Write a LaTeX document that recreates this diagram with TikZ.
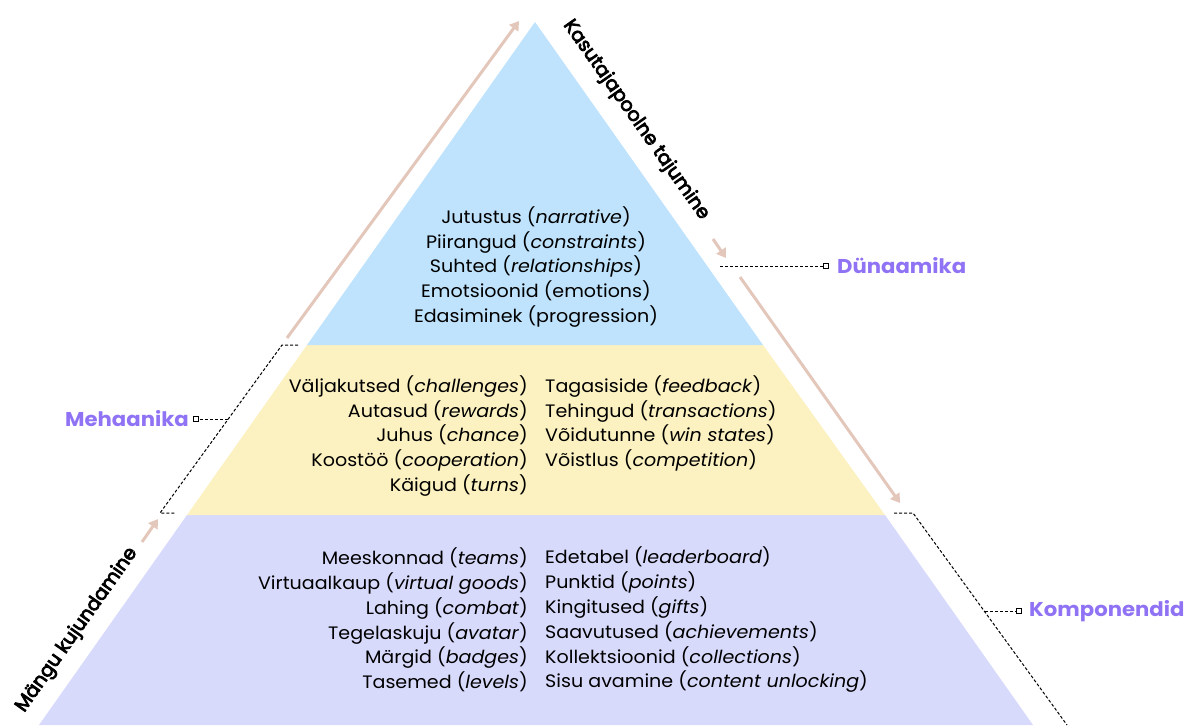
\documentclass[tikz,border=0pt]{standalone}
\usepackage{fontspec}
\setmainfont{Poppins}[FakeStretch=1.06]
\newfontfamily\pmed{Poppins}[FakeBold=4]
\usetikzlibrary{arrows.meta}
\definecolor{lblue}{HTML}{BFE3FC}
\definecolor{lyellow}{HTML}{FCF1C0}
\definecolor{lpurple}{HTML}{D8DAFC}
\definecolor{lbl}{HTML}{8F73F4}
\definecolor{arr}{HTML}{E4C7BB}
\tikzset{
  flow/.style={draw=arr, line width=3pt, -{Triangle[length=9pt,width=11pt]}},
  bracket/.style={draw=black, line width=1pt, dash pattern=on 3pt off 2pt},
  sq/.style={draw=black, fill=white, line width=1pt, minimum size=5pt, inner sep=0pt, rectangle},
  lvl/.style={font=\fontsize{18}{24.8}\selectfont, inner sep=0pt},
  layername/.style={text=lbl, font=\fontsize{20}{24}\selectfont\bfseries, inner sep=0pt},
  side/.style={font=\fontsize{19}{22}\pmed, inner sep=0pt},
}
\begin{document}
\begin{tikzpicture}[x=1pt,y=-1pt]
\useasboundingbox (0,0) rectangle (1190,725);
% layers
\fill[lpurple] (187,515) -- (885,515) -- (1033,725) -- (39,725) -- cycle;
\fill[lyellow] (307,345) -- (763,345) -- (885,515) -- (187,515) -- cycle;
\fill[lblue] (535,22) -- (763,345) -- (307,345) -- cycle;
% texts
\node[lvl, align=center] (top) at (536,267) {Jutustus (\textit{narrative})\\Piirangud (\textit{constraints})\\Suhted (\textit{relationships})\\Emotsioonid (emotions)\\Edasiminek (progression)};
\node[lvl, align=right, anchor=east] (midL) at (528,436) {Väljakutsed (\textit{challenges})\\Autasud (\textit{rewards})\\Juhus (\textit{chance})\\Koostöö (\textit{cooperation})\\Käigud (\textit{turns})};
\node[lvl, align=left, anchor=west] (midR) at (545,423.5) {Tagasiside (\textit{feedback})\\Tehingud (\textit{transactions})\\Võidutunne (\textit{win states})\\Võistlus (\textit{competition})};
\node[lvl, align=right, anchor=east] (botL) at (528,620) {Meeskonnad (\textit{teams})\\Virtuaalkaup (\textit{virtual goods})\\Lahing (\textit{combat})\\Tegelaskuju (\textit{avatar})\\Märgid (\textit{badges})\\Tasemed (\textit{levels})};
\node[lvl, align=left, anchor=west] (botR) at (545,620) {Edetabel (\textit{leaderboard})\\Punktid (\textit{points})\\Kingitused (\textit{gifts})\\Saavutused (\textit{achievements})\\Kollektsioonid (\textit{collections})\\Sisu avamine (\textit{content unlocking})};
% side texts
\node[side, rotate=-54.8] (kas) at (636,120) {Kasutajapoolne tajumine};
\node[side, rotate=54.8] (man) at (77,630) {Mängu kujundamine};
% arrows
\coordinate (a1s) at (287,338); \coordinate (a1e) at (519,21);
\coordinate (a2s) at (142,542); \coordinate (a2e) at (158,519);
\coordinate (a3s) at (713,239); \coordinate (a3e) at (726,258);
\coordinate (a4s) at (740,277); \coordinate (a4e) at (900,503);
\draw[flow] (a1s) -- (a1e);
\draw[flow] (a2s) -- (a2e);
\draw[flow] (a3s) -- (a3e);
\draw[flow] (a4s) -- (a4e);
% Dunaamika
\node[sq] (sqD) at (826,266) {};
\node[layername, anchor=west] (dyn) at (837,266) {Dünaamika};
\coordinate (d0) at (720,266);
\draw[bracket] (d0) -- (sqD.west);
% Mehaanika
\node[sq] (sqM) at (196,419) {};
\node[layername, anchor=east] (mech) at (189,419) {Mehaanika};
\coordinate (m1) at (298,345); \coordinate (m2) at (282,345);
\coordinate (m3) at (160,513); \coordinate (m4) at (176,513);
\coordinate (mb) at (228,419);
\draw[bracket] (m1) -- (m2) -- (m3) -- (m4);
\draw[bracket] (mb) -- (sqM.east);
% Komponendid
\node[sq] (sqK) at (1019,611) {};
\node[layername, anchor=west] (comp) at (1029,611) {Komponendid};
\coordinate (k1) at (894,513); \coordinate (k2) at (913,513);
\coordinate (k3) at (1067,725); \coordinate (kb) at (985,611);
\draw[bracket] (k1) -- (k2) -- (k3);
\draw[bracket] (kb) -- (sqK.west);
\end{tikzpicture}
\end{document}
